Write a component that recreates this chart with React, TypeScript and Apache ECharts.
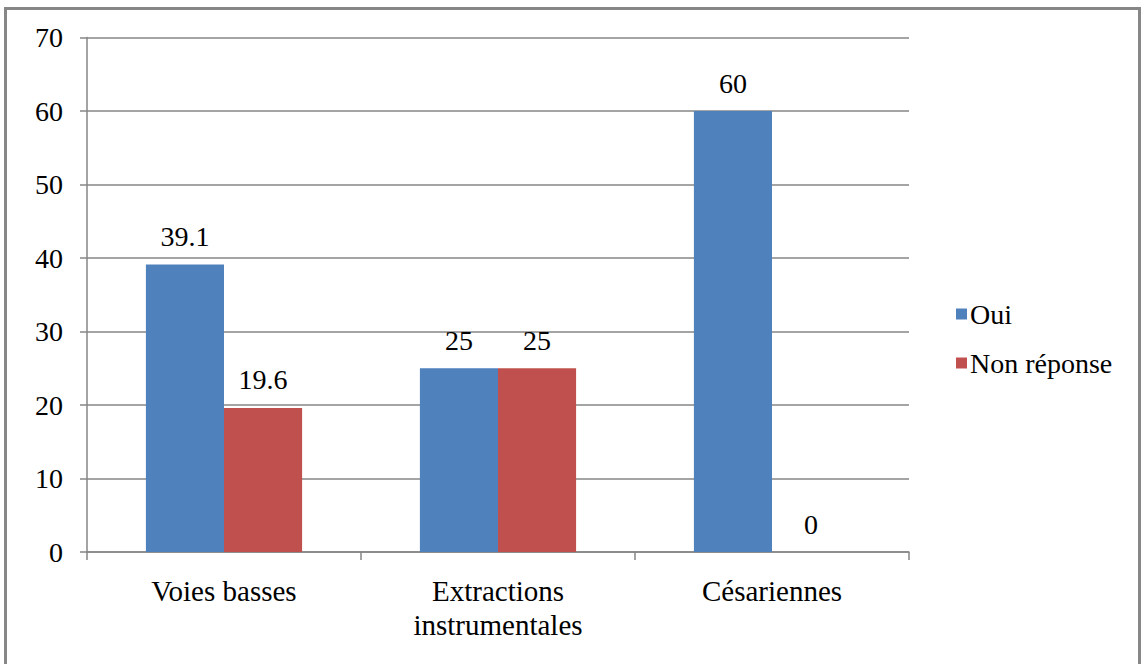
import React, { useEffect, useRef } from "react";
import * as echarts from "echarts";

const categories = ["Voies basses", "Extractions\ninstrumentales", "Césariennes"];
const seriesNames = ["Oui", "Non réponse"];
const ouiValues = [39.1, 25, 60];
const nonReponseValues = [19.6, 25, 0];
const yTicks = [0, 10, 20, 30, 40, 50, 60, 70];

const FONT = "Liberation Serif";

export default function App() {
  const ref = useRef<HTMLDivElement>(null);
  useEffect(() => {
    if (!ref.current) return;
    const chart = echarts.init(ref.current, null, { renderer: "svg" });
    const labelStyle = {
      show: true,
      position: "top" as const,
      distance: 14,
      fontFamily: FONT,
      fontSize: 28,
      color: "#000",
    };
    chart.setOption({
      animation: false,
      backgroundColor: "#fff",
      textStyle: { fontFamily: FONT },
      graphic: [
        {
          type: "rect",
          shape: { x: 5.5, y: 8.5, width: 1134, height: 700 },
          style: { fill: "none", stroke: "#878787", lineWidth: 3 },
          silent: true,
          z: 100,
        },
      ],
      grid: { left: 87, right: 232, top: 37.5, bottom: 112, containLabel: false },
      legend: {
        orient: "vertical",
        left: 951,
        top: 295,
        icon: "rect",
        itemWidth: 11,
        itemHeight: 11,
        itemGap: 21,
        textStyle: { fontFamily: FONT, fontSize: 28, lineHeight: 26, color: "#000", padding: [0, 0, 0, -2] },
        data: seriesNames,
      },
      xAxis: {
        type: "category",
        data: categories,
        axisLine: { lineStyle: { color: "#868686", width: 1.5 } },
        axisTick: { show: true, length: 8, lineStyle: { color: "#868686", width: 1.5 } },
        axisLabel: {
          fontFamily: FONT,
          fontSize: 29,
          lineHeight: 34,
          color: "#000",
          margin: 22,
          interval: 0,
        },
      },
      yAxis: {
        type: "value",
        min: yTicks[0],
        max: yTicks[yTicks.length - 1],
        interval: 10,
        axisLine: { show: true, lineStyle: { color: "#868686", width: 1.5 } },
        axisTick: { show: true, length: 7, lineStyle: { color: "#868686", width: 1.5 } },
        axisLabel: { fontFamily: FONT, fontSize: 28, color: "#000", margin: 24 },
        splitLine: { show: true, lineStyle: { color: "#868686", width: 1.5 } },
      },
      series: [
        {
          name: seriesNames[0],
          type: "bar",
          data: ouiValues,
          itemStyle: { color: "#4F81BD" },
          barGap: "0%",
          barCategoryGap: "43%",
          label: labelStyle,
        },
        {
          name: seriesNames[1],
          type: "bar",
          data: nonReponseValues,
          itemStyle: { color: "#C0504D" },
          barGap: "0%",
          barCategoryGap: "43%",
          label: labelStyle,
        },
      ],
    });
    return () => chart.dispose();
  }, []);
  return (
    <div
      ref={ref}
      style={{ position: "fixed", left: 0, top: 0, width: 1141, height: 664, background: "#fff" }}
    />
  );
}
